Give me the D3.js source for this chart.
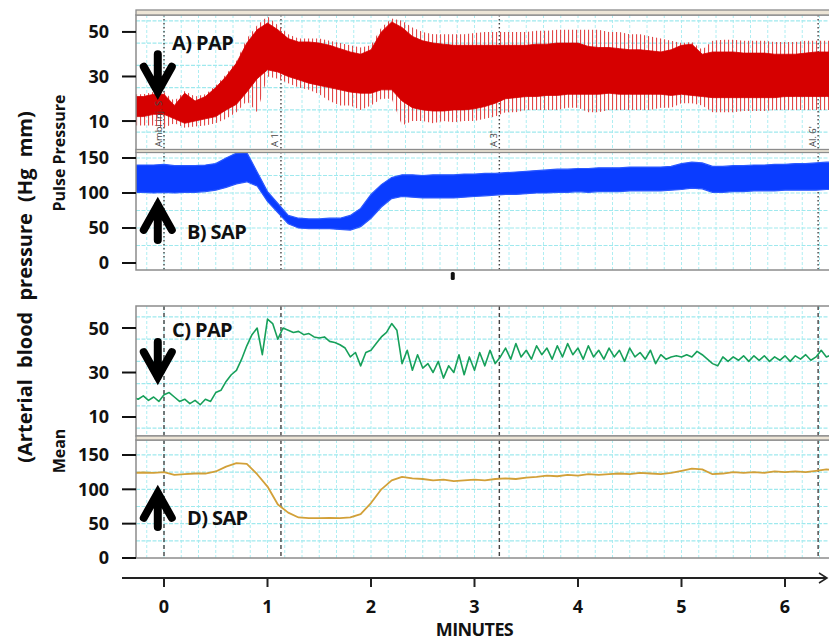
<!DOCTYPE html>
<html>
<head>
<meta charset="utf-8">
<script src="https://cdn.jsdelivr.net/npm/d3@7"></script>
<style>
  html, body { margin: 0; padding: 0; background: #fff; }
  svg { display: block; font-family: "Open Sans", "DejaVu Sans", sans-serif; }
</style>
</head>
<body>
<svg id="chart" width="829" height="642"></svg>
<script>
// ---- time axis (minutes) ----
const minuteTicks = [0, 1, 2, 3, 4, 5, 6];
const eventTimes  = [0, 1.13, 3.24, 6.32];
const eventLabels = ["Ambi inj. S", "A 1'", "A 3'", "Al. 6'"];

// ---- A) PAP pulse pressure: envelope per 0.1 min, from -0.3 min ----
const pulseStart = -0.3, pulseStep = 0.1;
const papPulseMax = [22,22,23,23,19,23.5,21,22,26,31,37,47,53,57,53,49,47,47,47,46,45,44,43,44,52,56,55,52,50,49,49,49,49,49.5,50,50,50,50,50,50.5,50.5,51,51,51,51,51,50,50,49,49,48,47,46,45,45.5,42,46,46.5,46.5,46,46,46,45.5,45.5,45.5,46,46,46,46];
const papPulseHi  = [21,21,22,22,17,22.5,19,21,25,30,36,45,51,54,51,47,45.5,45.5,45,44,42.5,41,40,42,50,54.5,52,48,46,45,44.5,44,44,44,44,44,44,44,44,44.5,44.5,45,45,45,43.5,43,43,42.5,42,42,41.5,41,42,44,44.5,40,41,41,41,40.5,40.5,40.5,40,40,40,40.5,41,41,41];
const papPulseLo  = [12,12,13,13,11,9,10,11,12,15,17.5,23,29,33,32,30,28.5,27,26,25,24,23,22.5,22.5,24,24,19,16,15,14.5,14.5,15,15,15.5,16.5,18,20,20.5,21,21,21.5,21.5,22,22,22,22,22.5,22,22,22,22,22,21.5,22,21.5,21,20.5,20.5,20.5,20.5,20.5,20.5,20.5,21,21,21,21,21,21];
const papPulseMin = [8,8,8,7,9,7,7.5,8,9,11,14,19,14,30,29,27,25,24,22,19,17,17,15,17,20,20,8,10,10,9,10,9.5,10,10,11,12,14,14,15,15,15,15,16,16,14,14,15,15,15,15,15,16,16,18,18,17,14,14,14,14.5,14.5,14.5,15,15,15,15,15,15,15];

// ---- B) SAP pulse pressure: envelope per 0.1 min ----
const sapPulseHi = [140,140,140,141,139,139,139,140,142,150,157,158,130,102,85,68,64,63,63,64,64,68,78,98,112,122,126,126,125,126,126,126,127,127,128,128,129,130,131,132,133,134,134,135,135,136,136,136,137,137,137,137,138,142,144,143,138,138,139,139,140,140,141,141,142,142,143,144,144];
const sapPulseLo = [101,101,100,101,100,101,101,102,104,108,113,116,110,88,72,56,50,49,49,49,48,47,52,64,80,92,95,94,93,93,93,93,94,95,96,97,98,98,99,100,100,101,101,102,101,102,102,102,103,103,103,103,104,105,107,106,101,101,102,102,103,103,103,104,104,104,104,105,105];

// ---- C) PAP mean: one value per 0.05 min, from -0.3 min ----
const meanStart = -0.3, meanStep = 0.05;
const papMean = [19,18,19.5,17.5,19,17,20,21,19,17,18,16,17.5,15.5,18,17,21,22,26,29,31,36,42,47,50,38,54,52,45,50,49,48,48.5,47,47.5,46,45.5,46,44,43.5,42.5,41,37,39,33,39,40,43,46,48,52,49,34,40,31,38,32,34,30,35,27.5,33,30,38,29,37,31,39,33,40,34,37,41,36,43,37,40,36,42,38,41,36,42,37,43,38,41,36,42,37,40,36,41,37,40,35,41,37,39,36,40,34,38,36,37,37.5,37,38,37,39.5,38,36,34,33,37,35,37,35.5,37.5,35,37.5,35.5,37.5,35,37,35.5,37.5,35,37.5,36,38,35.5,37,40,37,38,37.5];

// ---- D) SAP mean: one value per 0.1 min, from -0.3 min ----
const sapMean = [124,124.5,124,125,121,122,123,123,126,133,138,137,122,104,78,66,59,58,58,58.5,58,59,64,80,100,113,118,116,115,113,114,112,113,114,113,115,116,115,117,118,120,119,121,120,122,121,122,123,122,124,123,122,124,127,130,129,122,123,125,124,125,124,126,125,126,125,127,129,128];

// ---- axis ticks and grid levels ----
const papTicks = [10, 30, 50];
const sapTicks = [0, 50, 100, 150];
const papGrid  = [5, 15, 25, 35, 45, 55];
const sapGrid  = [25, 50, 75, 100, 125, 150];

// ---- layout ----
const W = 829, H = 642;
const plotLeft = 136, plotRight = 845;
const x = d3.scaleLinear().domain([0, 6]).range([164, 785]);

const panels = [
  { id: "a", top: 15,  bottom: 150, domain: [-3.0, 57.6],  ticks: papTicks, grid: papGrid, title: "A) PAP", titleX: 172, titleDy: 28, dash: "1.5,2.5" },
  { id: "b", top: 152, bottom: 270, domain: [-10, 158.6],  ticks: sapTicks, grid: sapGrid, title: "B) SAP", titleX: 187, titleDy: 80, dash: "1.5,2.5" },
  { id: "c", top: 306, bottom: 436, domain: [1.46, 59.9],  ticks: papTicks, grid: papGrid, title: "C) PAP", titleX: 172, titleDy: 24, dash: "4,3" },
  { id: "d", top: 440, bottom: 558, domain: [0, 171.8],    ticks: sapTicks, grid: sapGrid, title: "D) SAP", titleX: 187, titleDy: 78, dash: "4,3" }
];
panels.forEach(p => { p.y = d3.scaleLinear().domain(p.domain).range([p.bottom, p.top]); });

const svg = d3.select("#chart");
const defs = svg.append("defs");

// vertical spike texture for the pulse waveform tips
const pat = defs.append("pattern")
  .attr("id", "spikesRed").attr("patternUnits", "userSpaceOnUse")
  .attr("width", 4).attr("height", 6);
pat.append("rect").attr("width", 1.1).attr("height", 6).attr("fill", "#e24848");

panels.forEach(p => {
  defs.append("clipPath").attr("id", "clip-" + p.id)
    .append("rect").attr("x", plotLeft).attr("y", p.top)
    .attr("width", plotRight - plotLeft).attr("height", p.bottom - p.top);
});

const gridTimes = d3.range(-2, 40).map(k => k / 6);

panels.forEach(p => {
  const g = svg.append("g").attr("clip-path", `url(#clip-${p.id})`);
  g.append("rect").attr("x", plotLeft).attr("y", p.top)
    .attr("width", plotRight - plotLeft).attr("height", p.bottom - p.top).attr("fill", "#fff");

  // light cyan chart-paper grid
  g.selectAll(".vg").data(gridTimes).join("line")
    .attr("x1", d => x(d)).attr("x2", d => x(d))
    .attr("y1", p.top).attr("y2", p.bottom)
    .attr("stroke", "#aeeef2").attr("stroke-width", 1).attr("stroke-dasharray", "3,2");
  g.selectAll(".hg").data(p.grid).join("line")
    .attr("x1", plotLeft).attr("x2", plotRight)
    .attr("y1", d => p.y(d)).attr("y2", d => p.y(d))
    .attr("stroke", "#9fe9ee").attr("stroke-width", 1.2).attr("stroke-dasharray", "4,1.5");

  // event markers
  g.selectAll(".ev").data(eventTimes).join("line")
    .attr("x1", d => x(d)).attr("x2", d => x(d))
    .attr("y1", p.top).attr("y2", p.bottom)
    .attr("stroke", "#444").attr("stroke-width", 1.4).attr("stroke-dasharray", p.dash);
  p.g = g;
});

// ---- A) PAP pulse waveform ----
{
  const p = panels[0];
  const t = i => pulseStart + i * pulseStep;
  const outer = d3.area().x((d, i) => x(t(i))).y0((d, i) => p.y(papPulseMin[i])).y1(d => p.y(d));
  p.g.append("path").datum(papPulseMax).attr("d", outer).attr("fill", "url(#spikesRed)");
  const core = d3.area().x((d, i) => x(t(i))).y0((d, i) => p.y(papPulseLo[i])).y1(d => p.y(d));
  p.g.append("path").datum(papPulseHi).attr("d", core).attr("fill", "#d60000")
    .attr("stroke", "#d60000").attr("stroke-width", 0.8);
}

// ---- B) SAP pulse waveform ----
{
  const p = panels[1];
  const t = i => pulseStart + i * pulseStep;
  const band = d3.area().x((d, i) => x(t(i))).y0((d, i) => p.y(sapPulseLo[i])).y1(d => p.y(d));
  p.g.append("path").datum(sapPulseHi).attr("d", band).attr("fill", "#0a3cff")
    .attr("stroke", "#2a58ff").attr("stroke-width", 1.2);
}

// ---- C) PAP mean ----
{
  const p = panels[2];
  const line = d3.line().x((d, i) => x(meanStart + i * meanStep)).y(d => p.y(d));
  p.g.append("path").datum(papMean).attr("d", line).attr("fill", "none")
    .attr("stroke", "#17a05a").attr("stroke-width", 1.6).attr("stroke-linejoin", "round");
}

// ---- D) SAP mean ----
{
  const p = panels[3];
  const line = d3.line().x((d, i) => x(pulseStart + i * pulseStep)).y(d => p.y(d));
  p.g.append("path").datum(sapMean).attr("d", line).attr("fill", "none")
    .attr("stroke", "#d2a038").attr("stroke-width", 1.8).attr("stroke-linejoin", "round");
}

// event labels at the foot of panel A
{
  const p = panels[0];
  svg.append("g").selectAll("text").data(eventTimes).join("text")
    .attr("transform", d => `translate(${x(d) - 2.5},${p.bottom - 3}) rotate(-90)`)
    .attr("font-size", 9.5).attr("fill", "#444")
    .text((d, i) => eventLabels[i]);
}

// panel frames
panels.forEach(p => {
  svg.append("rect").attr("x", plotLeft).attr("y", p.top)
    .attr("width", plotRight - plotLeft).attr("height", p.bottom - p.top)
    .attr("fill", "none").attr("stroke", "#8c8c8c").attr("stroke-width", 1.5);
});
// beige header strips
[[10, 15], [149.5, 152.5], [436, 440]].forEach(([a, b]) => {
  svg.append("rect").attr("x", plotLeft).attr("y", a).attr("width", plotRight - plotLeft).attr("height", b - a)
    .attr("fill", "#ede5d6").attr("stroke", "#8c8c8c").attr("stroke-width", 1.3);
});

// y ticks and labels
panels.forEach(p => {
  const ax = svg.append("g");
  ax.selectAll("line").data(p.ticks).join("line")
    .attr("x1", 122).attr("x2", plotLeft).attr("y1", d => p.y(d)).attr("y2", d => p.y(d))
    .attr("stroke", "#111").attr("stroke-width", 2);
  ax.selectAll("text").data(p.ticks).join("text")
    .attr("x", 109).attr("y", d => p.y(d)).attr("dy", "0.36em")
    .attr("text-anchor", "end").attr("font-size", 18).attr("font-weight", 700).attr("fill", "#111")
    .text(d => d);
  svg.append("text").attr("x", p.titleX).attr("y", p.top + p.titleDy).attr("dy", "0.36em")
    .attr("font-size", 20).attr("font-weight", 700).attr("letter-spacing", -0.6).attr("fill", "#111")
    .text(p.title);
});

// direction arrows (down for PAP, up for SAP)
function arrow(p, vTail, vTip) {
  const xa = x(-0.06), y0 = p.y(vTail), y1 = p.y(vTip);
  const s = Math.sign(y1 - y0);
  const tip = y1 - s * 7;
  svg.append("path")
    .attr("d", `M${xa},${y0} L${xa},${tip} M${xa - 14},${tip - s * 25} L${xa},${tip} L${xa + 14},${tip - s * 25}`)
    .attr("fill", "none").attr("stroke", "#000").attr("stroke-width", 8)
    .attr("stroke-linecap", "round").attr("stroke-linejoin", "miter");
}
arrow(panels[0], 40, 20);
arrow(panels[1], 33, 93);
arrow(panels[2], 43.7, 24.8);
arrow(panels[3], 45, 105);

// small tick mark between the two groups
svg.append("rect").attr("x", x(2.79) - 2).attr("y", 272).attr("width", 4).attr("height", 8)
  .attr("rx", 1.5).attr("fill", "#111");

// ---- time axis ----
const axisY = 578;
svg.append("line").attr("x1", 122).attr("x2", 826).attr("y1", axisY).attr("y2", axisY)
  .attr("stroke", "#222").attr("stroke-width", 2);
svg.append("path").attr("d", `M819,${axisY - 5} L827,${axisY} L819,${axisY + 5}`)
  .attr("fill", "none").attr("stroke", "#222").attr("stroke-width", 1.5);
svg.append("g").selectAll("line").data(minuteTicks).join("line")
  .attr("x1", d => x(d)).attr("x2", d => x(d)).attr("y1", axisY).attr("y2", axisY + 9)
  .attr("stroke", "#222").attr("stroke-width", 2);
svg.append("g").selectAll("text").data(minuteTicks).join("text")
  .attr("x", d => x(d)).attr("y", 613).attr("text-anchor", "middle")
  .attr("font-size", 18).attr("font-weight", 700).attr("fill", "#111").text(d => d);
svg.append("text").attr("x", x(3)).attr("y", 636).attr("text-anchor", "middle")
  .attr("font-size", 18).attr("font-weight", 700).attr("letter-spacing", -0.6).attr("fill", "#111").text("MINUTES");

// ---- rotated axis titles ----
svg.append("text").attr("transform", "translate(25,287) rotate(-90)").attr("dy", "0.36em")
  .attr("text-anchor", "middle").attr("font-size", 20).attr("font-weight", 700)
  .attr("word-spacing", 6).attr("fill", "#111").text("(Arterial blood pressure (Hg mm)");
svg.append("text").attr("transform", "translate(59,153) rotate(-90)").attr("dy", "0.36em")
  .attr("text-anchor", "middle").attr("font-size", 16).attr("font-weight", 700)
  .attr("fill", "#111").text("Pulse Pressure");
svg.append("text").attr("transform", "translate(59,451) rotate(-90)").attr("dy", "0.36em")
  .attr("text-anchor", "middle").attr("font-size", 16).attr("font-weight", 700)
  .attr("fill", "#111").text("Mean");
</script>
</body>
</html>
